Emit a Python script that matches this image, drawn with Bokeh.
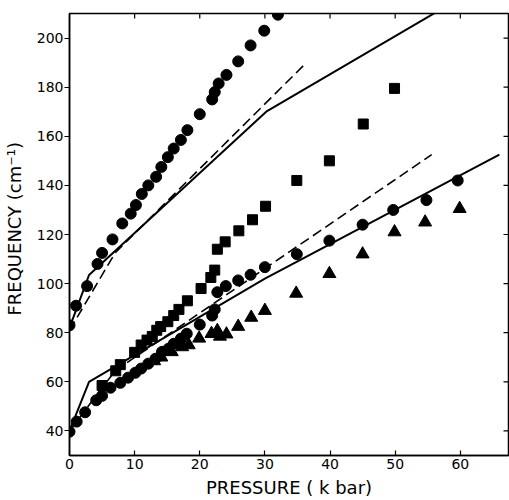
from bokeh.plotting import figure
from bokeh.models import FixedTicker, Range1d
from bokeh.embed import file_html
from bokeh.resources import INLINE

# ---- data ----
# upper circles
p_up = [0, 1.0, 2.7, 4.3, 5.0, 6.6, 8.1, 9.4, 10.2, 11.1, 12.1, 13.3, 14.1, 15.1,
        16.0, 17.1, 18.1, 20.0, 21.9, 22.3, 22.9, 24.1, 25.9, 27.8, 29.9, 32.0]
f_up = [83, 91, 99, 108, 112.5, 118, 124.5, 128.5, 132, 136.5, 140, 143.5, 147.5, 151.5,
        155, 158.5, 162.5, 169, 175, 178, 181.5, 185, 190.5, 197, 203, 209.5]

# squares
p_sq = [5.0, 7.1, 7.8, 10.0, 11.0, 11.9, 12.7, 13.4, 14.0, 15.1, 16.0, 16.8, 18.1, 20.2,
        21.7, 22.3, 22.7, 23.9, 26.0, 28.1, 30.1, 34.9, 39.9, 45.1, 49.9]
f_sq = [58.5, 64.5, 67, 72, 75, 77, 78.5, 81, 82.5, 84.5, 87, 89.5, 93, 98,
        102.5, 105.5, 114, 117, 121.5, 126, 131.5, 142, 150, 165, 179.5]

# lower circles
p_lo = [0, 1.1, 2.4, 4.1, 5.0, 6.3, 7.8, 9.0, 10.1, 11.0, 12.1, 13.2, 14.2, 15.2, 16.0,
        17.1, 18.0, 20.0, 21.9, 22.3, 22.7, 24.0, 25.9, 27.8, 30.0, 34.9, 39.9, 45.0,
        49.7, 54.8, 59.6]
f_lo = [39.7, 43.8, 47.6, 52.5, 54.3, 57.6, 59.6, 61.7, 63.7, 65.4, 67.4, 69.4, 72.2, 73.5,
        75.5, 77.6, 79.6, 83.3, 87, 89.5, 96.5, 99, 101.3, 103.6, 106.7, 112, 117.5, 124,
        130, 134, 142]

# triangles
p_tr = [13.0, 14.1, 15.7, 17.3, 18.3, 19.9, 21.8, 22.7, 23.1, 24.1, 25.9, 27.9, 30.0,
        34.8, 39.9, 45.0, 49.9, 54.6, 59.9]
f_tr = [68.5, 70, 72.2, 74.2, 75, 77.7, 79.6, 80.8, 78.5, 79.4, 82.5, 86.2, 89,
        96, 104, 112, 121, 125, 130.5]

# calculated curves
p_up_solid = [0, 3, 30.2, 60]
f_up_solid = [82, 103.5, 170, 216.3]
p_up_dash = [0, 7, 36]
f_up_dash = [81, 112.5, 189]
p_lo_solid = [0, 3, 30, 66]
f_lo_solid = [40, 60, 102, 152.5]
p_lo_dash = [0, 7, 55.6]
f_lo_dash = [40, 64.5, 152.5]

x_ticks = [0, 10, 20, 30, 40, 50, 60]
y_ticks = [40, 60, 80, 100, 120, 140, 160, 180, 200]

FONT = "DejaVu Sans"
X0, X1 = 0, 67.4
Y0, Y1 = 30, 210
W, H = 509, 500
BL, BR, BT, BB = 67, 1, 13, 43

p = figure(width=W, height=H, output_backend="svg", toolbar_location=None,
           x_range=Range1d(X0, X1), y_range=Range1d(Y0, Y1),
           min_border_left=BL, min_border_right=BR, min_border_top=BT, min_border_bottom=BB)
p.background_fill_color = "white"
p.border_fill_color = "white"
p.outline_line_color = "black"
p.outline_line_width = 1.5
p.xgrid.visible = False
p.ygrid.visible = False

# bottom axis
xa = p.xaxis[0]
xa.ticker = FixedTicker(ticks=x_ticks)
xa.axis_label = "PRESSURE ( k bar)"
xa.axis_label_text_font = FONT
xa.axis_label_text_font_style = "normal"
xa.axis_label_text_font_size = "18px"
xa.axis_label_text_color = "black"
xa.axis_label_standoff = 5
xa.major_label_text_font = FONT
xa.major_label_text_font_size = "14px"
xa.major_label_text_color = "black"
xa.major_label_standoff = 3
xa.major_tick_in = 5
xa.major_tick_out = 0
xa.minor_tick_line_color = None
xa.axis_line_width = 1.5
xa.major_tick_line_width = 1.2

# left axis
ya = p.yaxis[0]
ya.ticker = FixedTicker(ticks=y_ticks)
ya.axis_label = "\u00a0\u00a0FREQUENCY (cm\u207b\u00b9)"
ya.axis_label_text_font = FONT
ya.axis_label_text_font_style = "normal"
ya.axis_label_text_font_size = "18px"
ya.axis_label_text_color = "black"
ya.axis_label_standoff = 9
ya.major_label_text_font = FONT
ya.major_label_text_font_size = "14px"
ya.major_label_text_color = "black"
ya.major_label_standoff = 1
ya.major_tick_in = 0
ya.major_tick_out = 5
ya.minor_tick_line_color = None
ya.axis_line_width = 1.5
ya.major_tick_line_width = 1.2

# inward tick marks on the top and right frame edges (derived from the tick lists)
frame_w = W - BL - BR
frame_h = H - BT - BB
dx = 5 * (X1 - X0) / frame_w
dy = 5 * (Y1 - Y0) / frame_h
tx = [t for t in x_ticks if t > X0]
p.segment(x0=tx, y0=[Y1] * len(tx), x1=tx, y1=[Y1 - dy] * len(tx),
          line_color="black", line_width=1.2)
p.segment(x0=[X1] * len(y_ticks), y0=y_ticks, x1=[X1 - dx] * len(y_ticks), y1=y_ticks,
          line_color="black", line_width=1.2)

# curves
p.line(p_up_solid, f_up_solid, line_color="black", line_width=2)
p.line(p_up_dash, f_up_dash, line_color="black", line_width=1.6, line_dash="10 5")
p.line(p_lo_solid, f_lo_solid, line_color="black", line_width=2)
p.line(p_lo_dash, f_lo_dash, line_color="black", line_width=1.6, line_dash="10 5")

# markers
p.scatter(p_up, f_up, marker="circle", size=11, fill_color="black", line_color="black")
p.scatter(p_sq, f_sq, marker="square", size=10, fill_color="black", line_color="black")
p.scatter(p_lo, f_lo, marker="circle", size=11, fill_color="black", line_color="black")
p.scatter(p_tr, f_tr, marker="triangle", size=13, fill_color="black", line_color="black")

open("out.html", "w").write(file_html(p, INLINE))
